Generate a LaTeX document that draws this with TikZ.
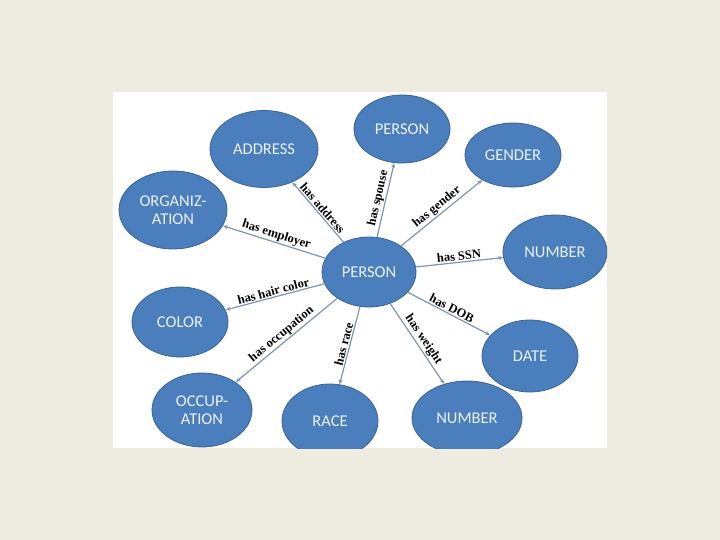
\documentclass[tikz,border=0pt]{standalone}
\usepackage{fontspec}
\setmainfont{Liberation Serif}
\newfontfamily\carlito{Carlito}
\usetikzlibrary{shapes.geometric,arrows.meta}
\definecolor{bgbeige}{RGB}{238,235,225}
\definecolor{ellfill}{RGB}{74,126,188}
\definecolor{elldraw}{RGB}{58,98,150}
\definecolor{elltext}{RGB}{236,241,250}
\definecolor{linkcol}{RGB}{128,148,178}
\tikzset{
  ell/.style={ellipse, fill=ellfill, draw=elldraw, line width=0.8pt, inner sep=0pt,
    text=elltext, font=\carlito\fontsize{16.5}{18}\selectfont, align=center},
  link/.style={draw=linkcol, line width=1.2pt, -{Stealth[length=5pt,width=4pt]}},
  lbl/.style={midway, sloped, above, inner sep=1.2pt, font=\bfseries\fontsize{12.5}{14}\selectfont, text=black}
}
\begin{document}
\begin{tikzpicture}[x=1pt,y=-1pt]
\fill[bgbeige] (0,0) rectangle (720,540);
\useasboundingbox (0,0) rectangle (720,540);
\fill[white] (113,92) rectangle (607,448);
\begin{scope}
\clip (113,92) rectangle (607,448);
\node[ell, minimum width=94pt, minimum height=70pt] (p) at (369,272) {PERSON};
\node[ell, minimum width=108pt, minimum height=77pt] (addr) at (264,149) {ADDRESS};
\node[ell, minimum width=108pt, minimum height=78pt] (org) at (173,210) {ORGANIZ-\\ATION};
\node[ell, minimum width=96pt, minimum height=68pt] (sp) at (402,129) {PERSON};
\node[ell, minimum width=96pt, minimum height=64pt] (gen) at (513,155) {GENDER};
\node[ell, minimum width=104pt, minimum height=74pt] (num1) at (555,252) {NUMBER};
\node[ell, minimum width=96pt, minimum height=70pt] (col) at (180,322) {COLOR};
\node[ell, minimum width=100pt, minimum height=74pt] (occ) at (202,410) {OCCUP-\\ATION};
\node[ell, minimum width=96pt, minimum height=74pt] (race) at (330,421) {RACE};
\node[ell, minimum width=110pt, minimum height=74pt] (num2) at (467,418) {NUMBER};
\node[ell, minimum width=96pt, minimum height=72pt] (date) at (530,356) {DATE};
\draw[link] (p) -- node[lbl] {has address} (addr);
\draw[link] (p) -- node[lbl] {has employer} (org);
\draw[link] (p) -- node[lbl] {has spouse} (sp);
\draw[link] (p) -- node[lbl] {has gender} (gen);
\draw[link] (p) -- node[lbl] {has SSN} (num1);
\draw[link] (p) -- node[lbl] {has hair color} (col);
\draw[link] (p) -- node[lbl] {has occupation} (occ);
\draw[link] (p) -- node[lbl] {has race} (race);
\draw[link] (p) -- node[lbl] {has weight} (num2);
\draw[link] (p) -- node[lbl] {has DOB} (date);
\end{scope}
\end{tikzpicture}
\end{document}
